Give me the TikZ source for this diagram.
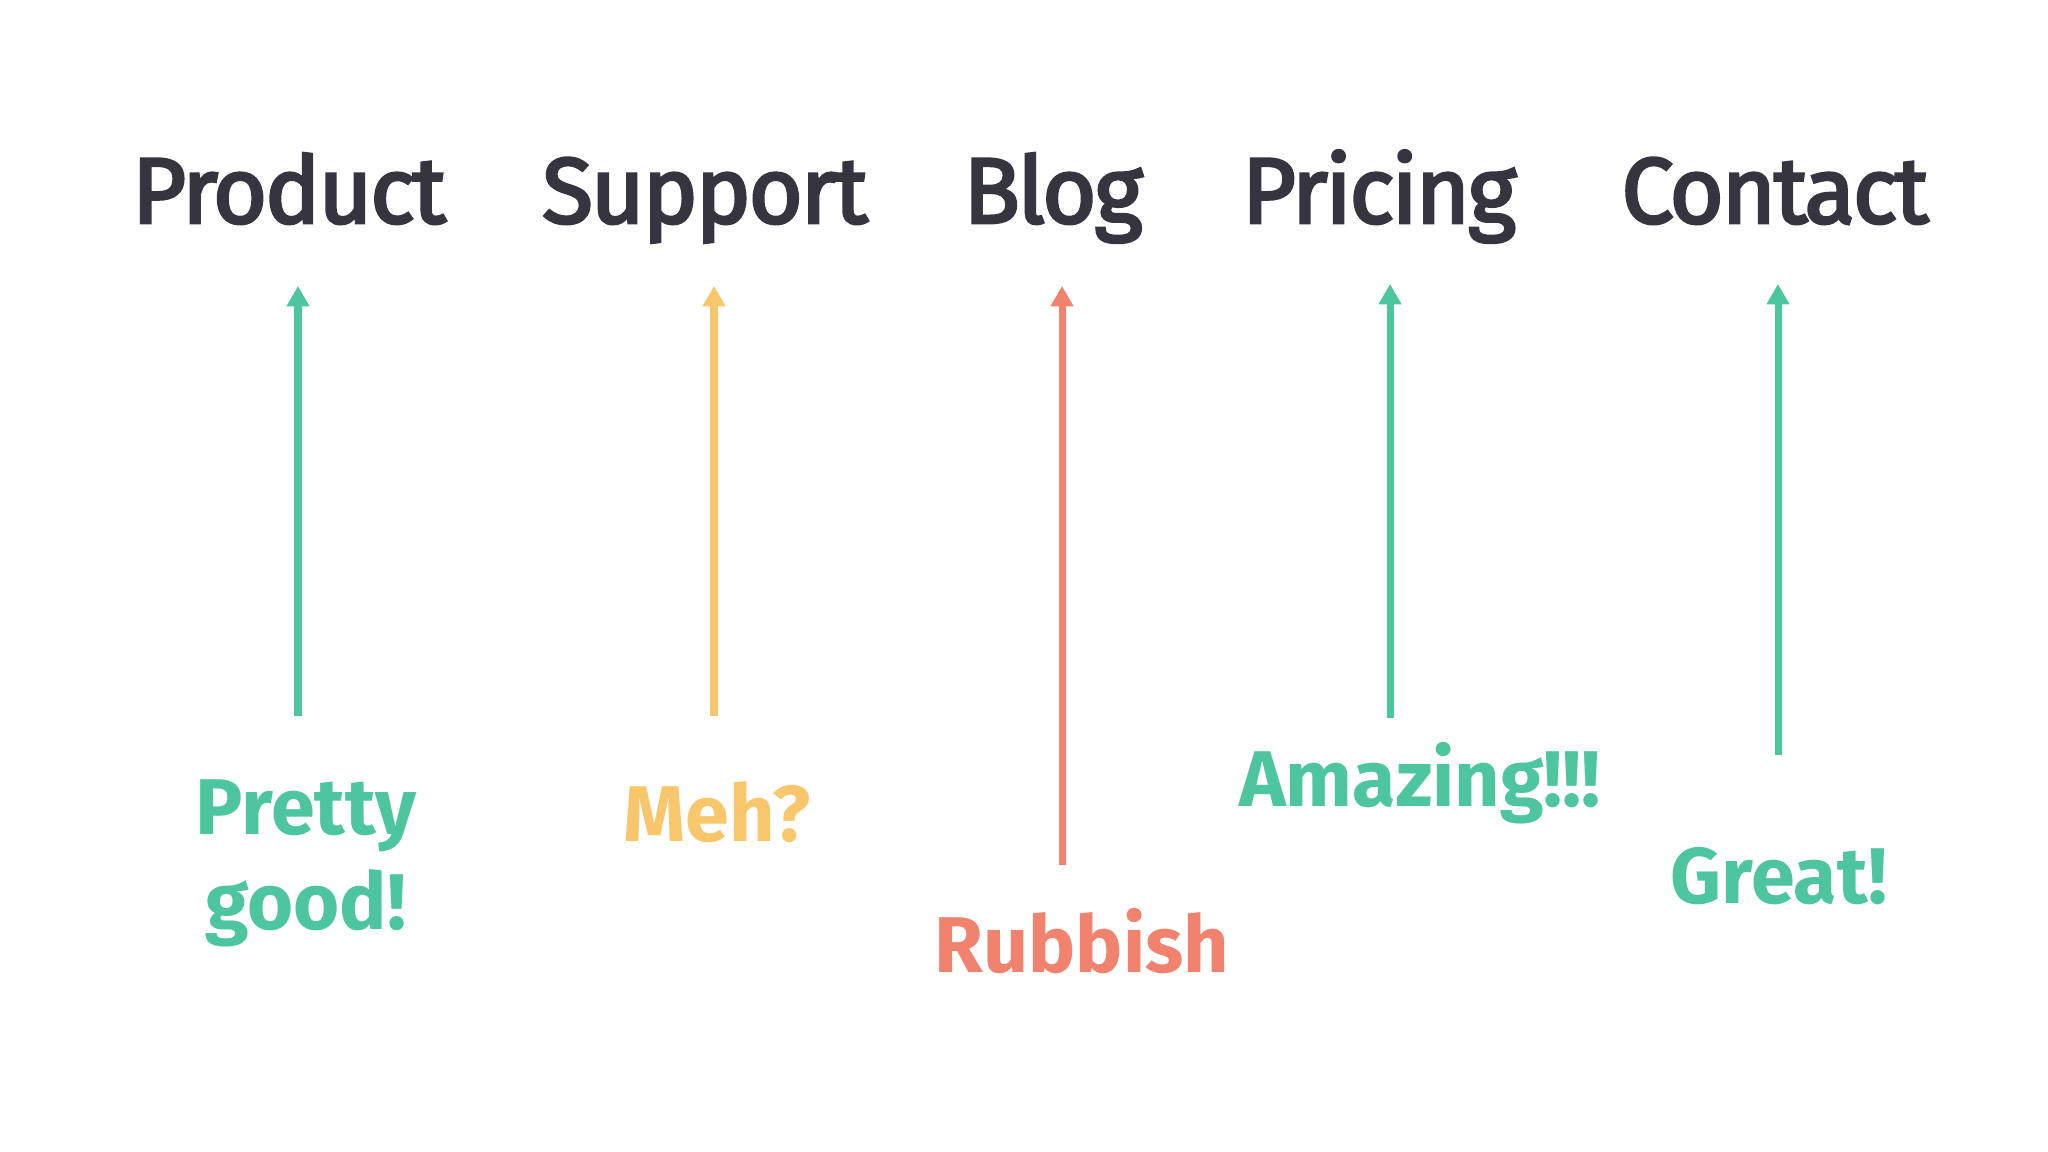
\documentclass[tikz,border=0pt]{standalone}
\usepackage{fontspec}
\usetikzlibrary{arrows.meta}
\newfontfamily\headfont{Fira Sans}[FakeBold=3,LetterSpace=-2.5]
\newfontfamily\notefont{Fira Sans}
\definecolor{ink}{HTML}{36343F}
\definecolor{good}{HTML}{4DC59E}
\definecolor{meh}{HTML}{F8C66B}
\definecolor{bad}{HTML}{F0826E}
\tikzset{
  page/.style={inner sep=0pt,anchor=base,text=ink,font=\headfont\fontsize{26.5}{30}\selectfont},
  note/.style={inner sep=0pt,anchor=base,align=center,font=\notefont\bfseries\fontsize{22.5}{27}\selectfont},
  vote/.style={line width=2pt,-{Triangle[width=6.2pt,length=5.8pt]}},
}
\begin{document}
\begin{tikzpicture}[x=0.1mm,y=-0.1mm]
            \useasboundingbox (0,0) rectangle (2048,1152);
            % menu items
            \node[page] (prod) at (289,223) {Product};
            \node[page] (supp) at (705,223) {Support};
            \node[page] (blog) at (1053,223) {Blog};
            \node[page] (pric) at (1379,223) {Pricing};
            \node[page] (cont) at (1775,223) {Contact};
            % what people said
            \node[note,text=good,anchor=north] (prodnote) at (306,779) {Pretty\\good!};
            \node[note,text=meh] (suppnote) at (717,842) {Meh?};
            \node[note,text=bad] (blognote) at (1082,973) {Rubbish};
            \node[note,text=good] (pricnote) at (1420,807) {Amazing!!!};
            \node[note,text=good] (contnote) at (1779,904) {Great!};
            % arrows
            \coordinate (prodtail) at (298,716);  \coordinate (prodtip) at (298,286);
            \coordinate (supptail) at (714,716);  \coordinate (supptip) at (714,286);
            \coordinate (blogtail) at (1062,865); \coordinate (blogtip) at (1062,286);
            \coordinate (prictail) at (1390,718); \coordinate (prictip) at (1390,284);
            \coordinate (conttail) at (1778,755); \coordinate (conttip) at (1778,284);
            \draw[vote,good] (prodtail) -- (prodtip);
            \draw[vote,meh] (supptail) -- (supptip);
            \draw[vote,bad] (blogtail) -- (blogtip);
            \draw[vote,good] (prictail) -- (prictip);
            \draw[vote,good] (conttail) -- (conttip);
        \end{tikzpicture}
\end{document}
